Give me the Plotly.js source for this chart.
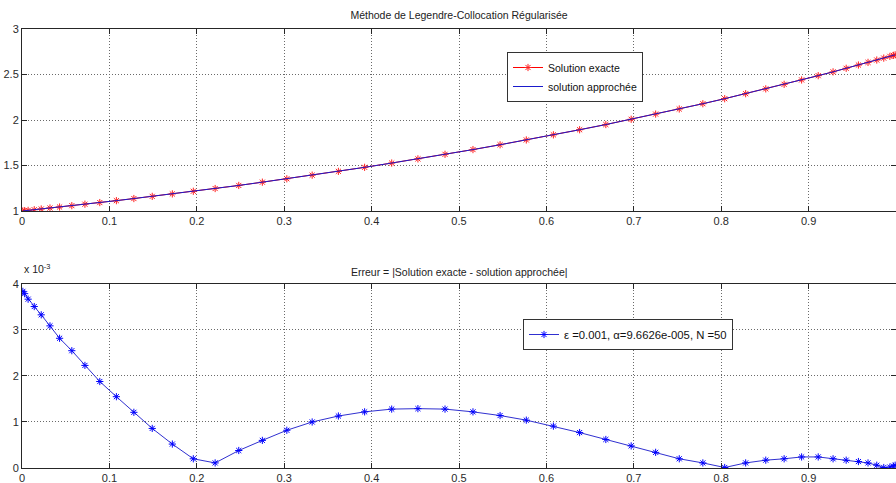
<!DOCTYPE html>
<html>
<head>
<meta charset="utf-8">
<script src="https://cdn.plot.ly/plotly-3.0.1.min.js"></script>
<style>html,body{margin:0;padding:0;background:#fff;}#chart{width:896px;height:483px;}</style>
</head>
<body>
<div id="chart"></div>
<script>
// Collocation nodes
var nodes = [0.001,0.003,0.007,0.014,0.022,0.032,0.043,0.057,0.072,0.089,
             0.108,0.128,0.149,0.172,0.196,0.221,0.248,0.275,0.303,0.332,
             0.362,0.392,0.423,0.453,0.484,0.516,0.547,0.577,0.608,0.638,
             0.668,0.697,0.725,0.752,0.779,0.804,0.828,0.851,0.872,0.892,
             0.911,0.928,0.943,0.957,0.968,0.978,0.986,0.993,0.997,0.999];
// Solution exacte (top panel)
var exacte = [1.001,1.003,1.007,1.014,1.022,1.033,1.044,1.059,1.075,1.093,
              1.114,1.137,1.161,1.188,1.217,1.247,1.281,1.317,1.354,1.394,
              1.436,1.480,1.527,1.573,1.623,1.675,1.728,1.781,1.837,1.893,
              1.950,2.008,2.065,2.121,2.179,2.234,2.289,2.342,2.392,2.440,
              2.487,2.529,2.568,2.604,2.633,2.659,2.680,2.699,2.710,2.716];
// Solution approchée (visually identical to the exact one)
var approchee = [1.001,1.003,1.007,1.014,1.022,1.033,1.044,1.059,1.075,1.093,
              1.114,1.137,1.161,1.188,1.217,1.247,1.281,1.317,1.354,1.394,
              1.436,1.480,1.527,1.573,1.623,1.675,1.728,1.781,1.837,1.893,
              1.950,2.008,2.065,2.121,2.179,2.234,2.289,2.342,2.392,2.440,
              2.487,2.529,2.568,2.604,2.633,2.659,2.680,2.699,2.710,2.716];
// Erreur, in units of 1e-3
var erreur = [3.84,3.79,3.67,3.51,3.33,3.09,2.82,2.55,2.23,1.88,
              1.55,1.21,0.86,0.52,0.20,0.11,0.38,0.60,0.82,1.00,
              1.13,1.22,1.28,1.29,1.28,1.22,1.14,1.04,0.91,0.77,
              0.62,0.48,0.34,0.20,0.11,0.01,0.11,0.17,0.20,0.24,
              0.24,0.20,0.17,0.14,0.11,0.06,0.01,0.02,0.04,0.06];

var xTickVals = [0,0.1,0.2,0.3,0.4,0.5,0.6,0.7,0.8,0.9];
var xTickText = ['0','0.1','0.2','0.3','0.4','0.5','0.6','0.7','0.8','0.9'];
var y1TickVals = [1,1.5,2,2.5,3];
var y1TickText = ['1','1.5','2','2.5','3'];
var y2TickVals = [0,1,2,3,4];
var y2TickText = ['0','1','2','3','4'];

var titleTop = 'Méthode de Legendre-Collocation Régularisée';
var titleBottom = 'Erreur = |Solution exacte - solution approchée|';
var legendErr = 'ε =0.001, α=9.6626e-005, N =50';

var FONT = 'Liberation Sans, Arial, sans-serif';
var PW = 874; // plot-area width in px (for paper coordinates)

var traces = [
  {x: nodes, y: exacte, name: 'Solution exacte', type: 'scatter', mode: 'lines+markers',
   xaxis: 'x', yaxis: 'y', legend: 'legend',
   line: {color: '#ff0000', width: 1},
   marker: {symbol: 'asterisk-open', size: 6, color: '#ff2020', line: {color: '#ff2020', width: 1}}},
  {x: nodes, y: approchee, name: 'solution approchée', type: 'scatter', mode: 'lines',
   xaxis: 'x', yaxis: 'y', legend: 'legend',
   line: {color: '#1a1acc', width: 1}},
  {x: nodes, y: erreur, name: legendErr, type: 'scatter', mode: 'lines+markers',
   xaxis: 'x2', yaxis: 'y2', legend: 'legend2',
   line: {color: '#3030d0', width: 1},
   marker: {symbol: 'asterisk-open', size: 6, color: '#0000ff', line: {color: '#0000ff', width: 1}}}
];

function xax(anchor) {
  return {anchor: anchor, range: [0, 1], tickvals: xTickVals, ticktext: xTickText,
    showline: true, mirror: 'ticks', linecolor: '#262626', linewidth: 1,
    ticks: 'inside', ticklen: 5, tickcolor: '#262626',
    showgrid: true, gridcolor: '#6a6a6a', griddash: '1px,2px', gridwidth: 1,
    zeroline: false, tickfont: {family: FONT, size: 11, color: '#2a2a2a'}, fixedrange: true};
}
function yax(anchor, domain, range, tv, tt) {
  return {anchor: anchor, domain: domain, range: range, tickvals: tv, ticktext: tt,
    showline: true, mirror: 'ticks', linecolor: '#262626', linewidth: 1,
    ticks: 'inside', ticklen: 5, tickcolor: '#262626',
    showgrid: true, gridcolor: '#6a6a6a', griddash: '1px,2px', gridwidth: 1,
    zeroline: false, tickfont: {family: FONT, size: 11, color: '#2a2a2a'}, fixedrange: true};
}

var layout = {
  width: 896, height: 483,
  margin: {l: 22, r: 0, t: 0, b: 0},
  paper_bgcolor: '#ffffff', plot_bgcolor: '#ffffff',
  font: {family: FONT, size: 11, color: '#222'},
  title: {text: titleTop, font: {family: FONT, size: 10.5, color: '#222'},
          x: 0.5, xanchor: 'center', xref: 'paper', y: 1 - 15/483, yanchor: 'middle', yref: 'container'},
  xaxis: xax('y'),
  yaxis: yax('x', [0.5631, 0.9400], [1, 3], y1TickVals, y1TickText),
  xaxis2: xax('y2'),
  yaxis2: yax('x2', [0.0311, 0.4120], [0, 4], y2TickVals, y2TickText),
  legend: {x: (507 - 22)/PW, y: 1 - 52/483, xanchor: 'left', yanchor: 'top',
           bgcolor: '#ffffff', bordercolor: '#333', borderwidth: 1,
           font: {family: FONT, size: 10.5, color: '#111'}, tracegroupgap: 0},
  legend2: {x: (523 - 22)/PW, y: 1 - 319/483, xanchor: 'left', yanchor: 'top',
           bgcolor: '#ffffff', bordercolor: '#333', borderwidth: 1,
           font: {family: FONT, size: 11.3, color: '#111'}},
  annotations: [
    {text: titleBottom, xref: 'paper', yref: 'paper', x: 0.5, y: 1 - 272/483,
     xanchor: 'center', yanchor: 'middle', showarrow: false,
     font: {family: FONT, size: 10.5, color: '#222'}},
    {text: 'x 10<sup>-3</sup>', xref: 'paper', yref: 'paper', x: 0, y: 1 - 268/483,
     xanchor: 'left', yanchor: 'middle', showarrow: false,
     font: {family: FONT, size: 10.5, color: '#222'}}
  ],
  showlegend: true
};

Plotly.newPlot('chart', traces, layout, {displayModeBar: false, staticPlot: true});
</script>
</body>
</html>
